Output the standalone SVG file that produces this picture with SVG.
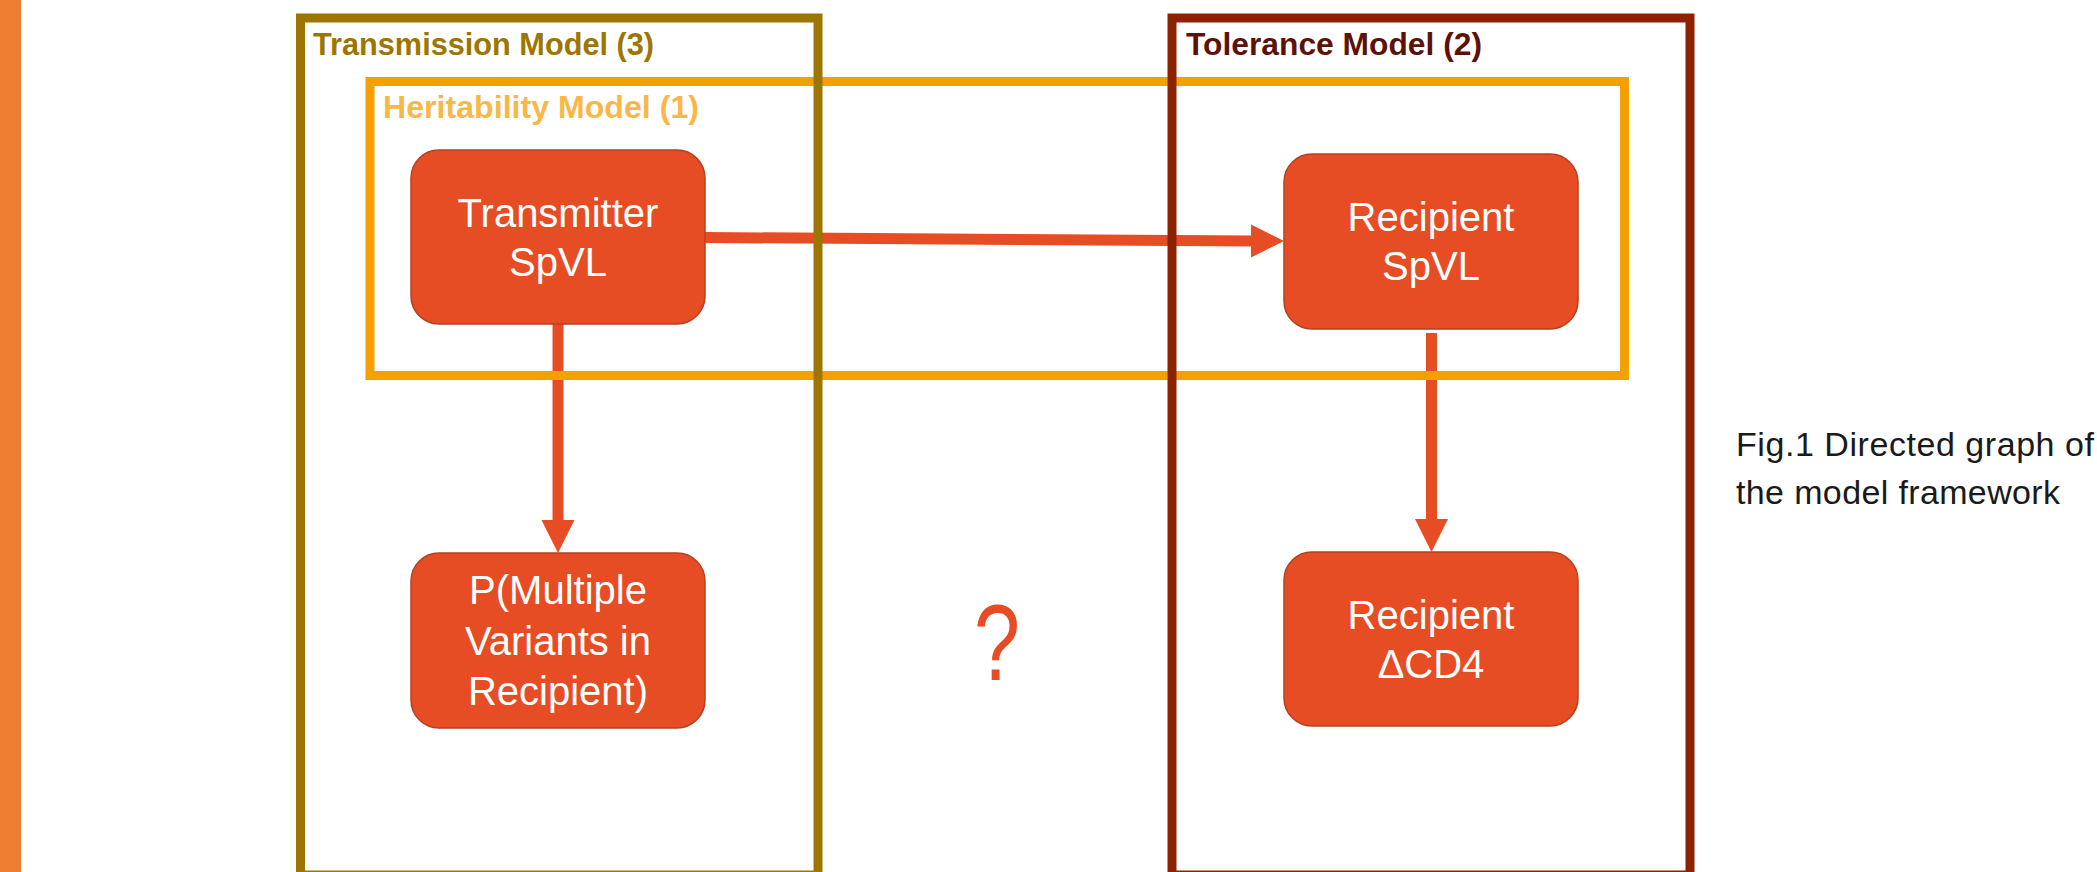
<svg xmlns="http://www.w3.org/2000/svg" width="2097" height="872" viewBox="0 0 2097 872">
<style>
.box{fill:none;stroke-width:9}
.node rect{fill:#E64D25;stroke:#B5401E;stroke-width:1.5}
.node text{font-family:"Liberation Sans",Arial,sans-serif;font-size:40px;fill:#FFFFFF;text-anchor:middle}
.title{font-family:"Liberation Sans",Arial,sans-serif;font-size:31px;font-weight:bold}
.conn line{stroke:#E64D25;stroke-width:11}
.conn polygon{fill:#E64D25}
.caption{font-family:"Liberation Sans",Arial,sans-serif;font-size:34px;fill:#1A1A1A}
</style>
<rect x="0" y="0" width="2097" height="872" fill="#FFFFFF"/>
<rect x="0" y="0" width="21" height="872" fill="#ED7D31"/>

<g id="connectors" class="conn">
  <line x1="705" y1="237.5" x2="1253" y2="241"/>
  <polygon points="1251,224.5 1284,241 1251,257.5"/>
  <line x1="558" y1="324" x2="558" y2="522"/>
  <polygon points="541.5,520 574.5,520 558,553"/>
  <line x1="1431.5" y1="333" x2="1431.5" y2="521"/>
  <polygon points="1415,519 1448,519 1431.5,552"/>
</g>

<g id="heritability-model">
  <rect class="box" x="370" y="81.5" width="1254.5" height="294" stroke="#F4A000"/>
  <text class="title" x="383" y="118" fill="#F8B848" textLength="316" lengthAdjust="spacingAndGlyphs">Heritability Model (1)</text>
</g>

<g id="transmission-model">
  <rect class="box" x="300.5" y="18" width="517.5" height="857" stroke="#9C7600"/>
  <text class="title" x="313" y="55" fill="#9C7600" textLength="341" lengthAdjust="spacingAndGlyphs">Transmission Model (3)</text>
</g>

<g id="tolerance-model">
  <rect class="box" x="1172" y="18" width="518" height="857" stroke="#8B2200"/>
  <text class="title" x="1186" y="55" fill="#5C1208" textLength="296" lengthAdjust="spacingAndGlyphs">Tolerance Model (2)</text>
</g>

<g id="transmitter-spvl" class="node">
  <rect x="411" y="150" width="294" height="174" rx="28" ry="28"/>
  <text x="558" y="227">Transmitter</text>
  <text x="558" y="276">SpVL</text>
</g>

<g id="recipient-spvl" class="node">
  <rect x="1284" y="154" width="294" height="175" rx="28" ry="28"/>
  <text x="1431" y="231">Recipient</text>
  <text x="1431" y="280">SpVL</text>
</g>

<g id="p-multiple-variants" class="node">
  <rect x="411" y="553" width="294" height="175" rx="28" ry="28"/>
  <text x="558" y="604">P(Multiple</text>
  <text x="558" y="655">Variants in</text>
  <text x="558" y="705">Recipient)</text>
</g>

<g id="recipient-dcd4" class="node">
  <rect x="1284" y="552" width="294" height="174" rx="28" ry="28"/>
  <text x="1431" y="629">Recipient</text>
  <text x="1431" y="678">ΔCD4</text>
</g>

<g id="question">
  <text x="974" y="680" font-family="'Liberation Sans',Arial,sans-serif" font-size="108" fill="#E64D25" textLength="46" lengthAdjust="spacingAndGlyphs">?</text>
</g>

<g id="caption">
  <text class="caption" x="1736" y="456" textLength="358">Fig.1 Directed graph of</text>
  <text class="caption" x="1736" y="504" textLength="324">the model framework</text>
</g>
</svg>
